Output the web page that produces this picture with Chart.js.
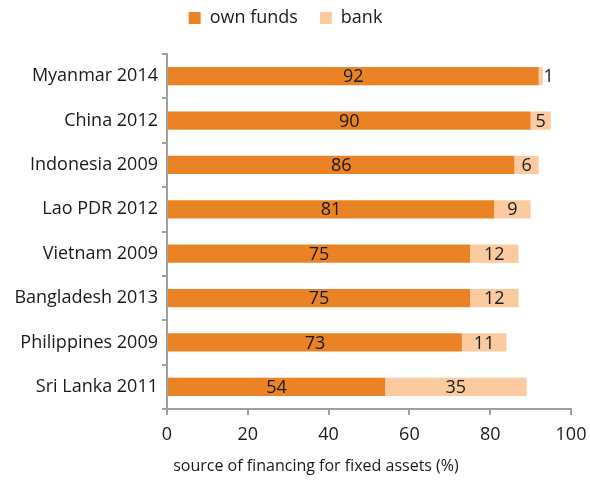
<!DOCTYPE html>
<html>
<head>
<meta charset="utf-8">
<script src="https://cdn.jsdelivr.net/npm/chart.js@4"></script>
<style>
  html, body { margin: 0; padding: 0; background: #fff; }
  #wrap { width: 590px; height: 485px; }
</style>
</head>
<body>
<div id="wrap"><canvas id="myChart" width="590" height="485"></canvas></div>
<script>
// data
var countries = ["Myanmar 2014", "China 2012", "Indonesia 2009", "Lao PDR 2012",
  "Vietnam 2009", "Bangladesh 2013", "Philippines 2009", "Sri Lanka 2011"];
var ownFunds = [92, 90, 86, 81, 75, 75, 73, 54];
var bank = [1, 5, 6, 9, 12, 12, 11, 35];
var xTicks = [0, 20, 40, 60, 80, 100];
var xTitle = "source of financing for fixed assets (%)";

var FONT = "'Open Sans', 'Noto Sans', sans-serif";
var axisGrey = "#a0a0a0";
var textCol = "#1a1a1a";

// labels in the middle of each segment
var barLabels = {
  id: "barLabels",
  afterDatasetsDraw: function (chart) {
    var ctx = chart.ctx;
    ctx.save();
    ctx.font = "18px " + FONT;
    ctx.fillStyle = textCol;
    ctx.textAlign = "center";
    ctx.textBaseline = "middle";
    chart.data.datasets.forEach(function (ds, i) {
      chart.getDatasetMeta(i).data.forEach(function (bar, j) {
        var w = Math.abs(bar.x - bar.base);
        var x = (bar.x + bar.base) / 2;
        if (w < 12) x = bar.x + 6;
        ctx.fillText(ds.data[j], x, bar.y + 1);
      });
    });
    ctx.restore();
  }
};

// x axis title, sits a bit left of the plot centre like the original
var xTitlePlugin = {
  id: "xTitlePlugin",
  afterDraw: function (chart) {
    var ctx = chart.ctx;
    ctx.save();
    ctx.font = "16px " + FONT;
    ctx.fillStyle = textCol;
    ctx.textAlign = "center";
    ctx.textBaseline = "middle";
    ctx.fillText(xTitle, 316, 466);
    ctx.restore();
  }
};

// legend block height fixed so the plot starts where the original does
var legendSpace = {
  id: "legendSpace",
  beforeInit: function (chart) {
    var fit = chart.legend.fit;
    chart.legend.fit = function () {
      fit.bind(chart.legend)();
      this.height = 67;
    };
  }
};

var ctx = document.getElementById("myChart").getContext("2d");
var chart = new Chart(ctx, {
  type: "bar",
  data: {
    labels: countries,
    datasets: [
      { label: "own funds", data: ownFunds, backgroundColor: "#e98325",
        barPercentage: 0.41, categoryPercentage: 1 },
      { label: "bank", data: bank, backgroundColor: "#fbcb9f",
        barPercentage: 0.41, categoryPercentage: 1 }
    ]
  },
  options: {
    indexAxis: "y",
    responsive: false,
    animation: false,
    layout: { padding: { top: -13, right: 19, bottom: 6, left: 0 } },
    plugins: {
      tooltip: { enabled: false },
      legend: {
        position: "top",
        labels: {
          font: { family: FONT, size: 18 },
          color: textCol,
          boxWidth: 12,
          boxHeight: 12,
          padding: 22
        }
      }
    },
    scales: {
      x: {
        stacked: true,
        min: 0,
        max: 100,
        afterBuildTicks: function (axis) {
          axis.ticks = xTicks.map(function (v) { return { value: v }; });
        },
        afterFit: function (axis) {
          axis.height = 70;
          axis.paddingRight = 0;
        },
        border: { color: axisGrey, width: 2 },
        grid: { display: true, drawOnChartArea: false, drawTicks: true,
          tickLength: 6, color: axisGrey, lineWidth: 2 },
        ticks: { font: { family: FONT, size: 18 }, color: textCol, padding: 9 }
      },
      y: {
        stacked: true,
        afterFit: function (axis) { axis.width = 167; },
        border: { color: axisGrey, width: 2 },
        grid: { display: true, drawOnChartArea: false, drawTicks: true,
          tickLength: 5, color: axisGrey, lineWidth: 2, offset: true },
        ticks: { font: { family: FONT, size: 18 }, color: textCol, padding: 4 }
      }
    }
  },
  plugins: [barLabels, xTitlePlugin, legendSpace]
});
</script>
</body>
</html>
